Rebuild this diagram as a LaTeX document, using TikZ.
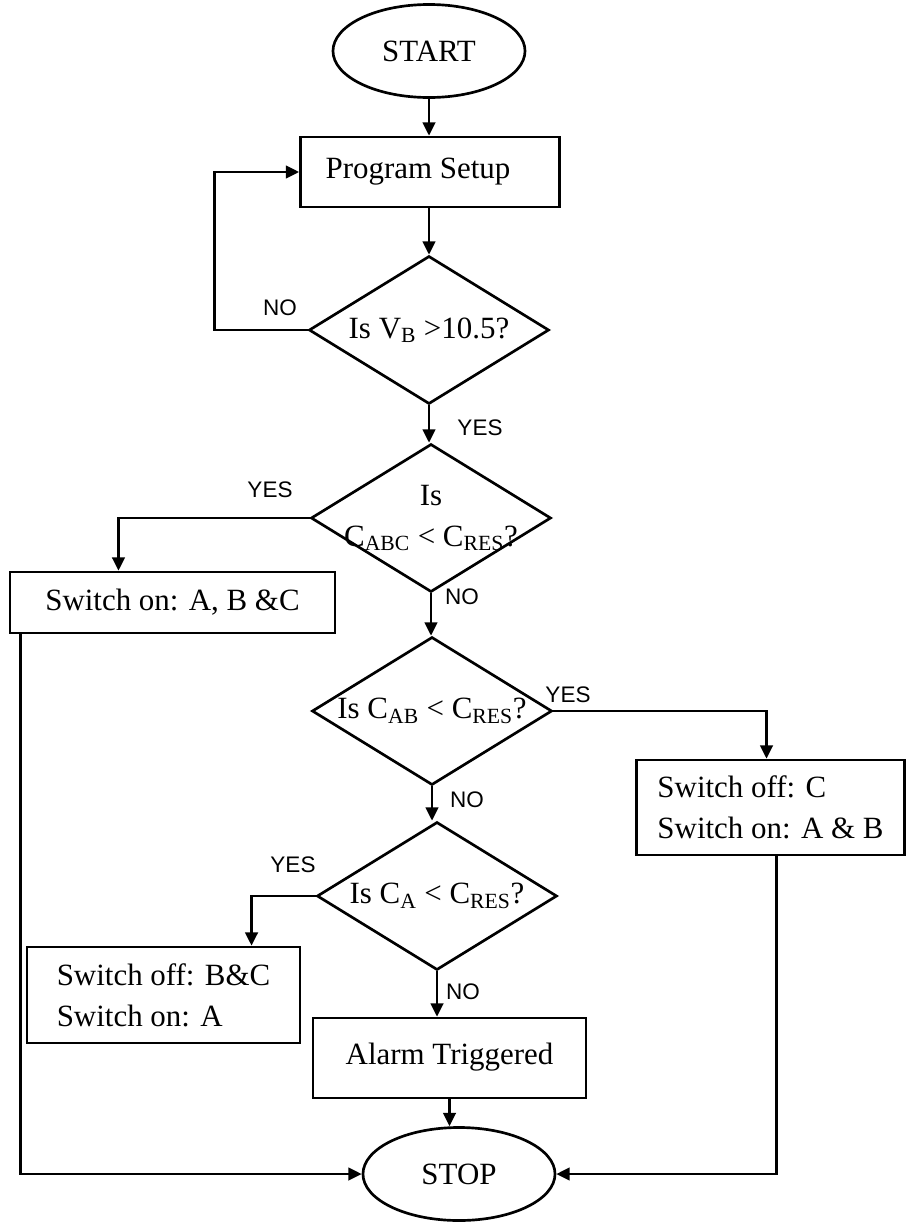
\documentclass[tikz,border=0pt]{standalone}
\usepackage{fontspec}
\setmainfont{Liberation Serif}
\setsansfont{Liberation Sans}
\usetikzlibrary{shapes.geometric,arrows.meta}

\begin{document}
\begin{tikzpicture}[x=0.025cm, y=-0.025cm, line width=1.9pt, >={Triangle[length=9.5pt,width=9pt]},
		txt/.style={font=\fontsize{22}{29}\selectfont},
		term/.style={ellipse, draw, inner sep=0pt, minimum width=4.8cm, minimum height=2.325cm, txt},
		box/.style={rectangle, draw, inner sep=0pt, align=left, txt},
		decision/.style={diamond, draw, inner sep=0pt, minimum width=6cm, minimum height=3.7cm, label={[txt, align=center]center:#1}},
		yn/.style={font=\sffamily\fontsize{16}{19}\selectfont}]

		\useasboundingbox (0,0) rectangle (906,1224);

		\node (start) [term] at (429,51) {START};
		\node (setup) [box, minimum width=6.475cm, minimum height=1.75cm] at (430,172) {Program Setup\hspace*{0.6cm}};
		\node (d1) [decision={Is V\textsubscript{B} >10.5?}] at (429,330) {};
		\node (d2) [decision={Is\\C\textsubscript{ABC} < C\textsubscript{RES}?}] at (431,518) {};
		\node (allon) [box, minimum width=8.125cm, minimum height=1.525cm] at (172.5,602.5) {Switch on: A, B \&C};
		\node (d3) [decision={Is C\textsubscript{AB} < C\textsubscript{RES}?}] at (432,711) {};
		\node (offC) [box, minimum width=6.7cm, minimum height=2.375cm] at (770.5,807.5) {Switch off: C\\Switch on: A \& B};
		\node (d4) [decision={Is C\textsubscript{A} < C\textsubscript{RES}?}] at (437,896) {};
		\node (offBC) [box, minimum width=6.825cm, minimum height=2.4cm] at (163.5,995) {Switch off: B\&C\\Switch on: A};
		\node (alarm) [box, minimum width=6.825cm, minimum height=2cm] at (449.5,1058) {\raisebox{0.2cm}{Alarm Triggered}};
		\node (stop) [term] at (459,1174) {STOP};

		% main column
		\draw[->] (start.south) -- (start.south |- setup.north);
		\draw[->] (d1.north |- setup.south) -- (d1.north);
		\draw[->] (d1.south) -- (d1.south |- d2.north);
		\draw[->] (d2.south) -- (d2.south |- d3.north);
		\draw[->] (d3.south) -- (d3.south |- d4.north);
		\draw[->] (d4.south) -- (d4.south |- alarm.north);
		\draw[->] (alarm.south) -- (alarm.south |- stop.north);

		% branches
		\draw[->] (d1.west) -- ++(-93,0) |- (setup.west);
		\draw[->] (d2.west) -| ([xshift=-1.35cm]allon.north);
		\draw[->] (d3.east) -| ([xshift=-0.1cm]offC.north);
		\draw[->] (d4.west) -| ([xshift=2.2cm]offBC.north);
		\draw[->] ([xshift=0.3cm]allon.south west) |- (stop.west);
		\draw[->] ([xshift=0.15cm]offC.south) |- (stop.east);

		\node [yn] at (280,308) {NO};
		\node [yn] at (480,428) {YES};
		\node [yn] at (270,490) {YES};
		\node [yn] at (462,597) {NO};
		\node [yn] at (568,695) {YES};
		\node [yn] at (467,800) {NO};
		\node [yn] at (293,865) {YES};
		\node [yn] at (463,992) {NO};

	\end{tikzpicture}
\end{document}
